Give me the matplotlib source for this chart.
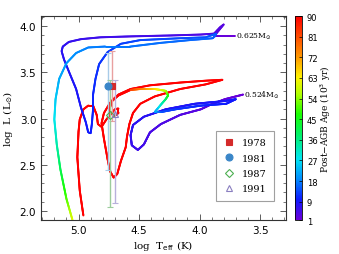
import numpy as np
import matplotlib
matplotlib.use("Agg")
import matplotlib.pyplot as plt
from matplotlib.collections import LineCollection
from matplotlib.colors import LinearSegmentedColormap, Normalize
from matplotlib.ticker import MultipleLocator

# ---------------- data ----------------
# 0.625 Msun track: log Teff, log L, post-AGB age (10^3 yr)
t625_logT = [3.71, 3.88, 3.85, 3.80, 3.83, 3.88, 3.99, 4.24, 4.57, 4.82, 4.98, 5.08, 5.13, 5.14, 5.12, 5.08,
             5.02, 4.98, 4.94, 4.92, 4.90, 4.89, 4.88, 4.88, 4.86, 4.83, 4.76, 4.65, 4.49, 4.16, 3.95, 3.86,
             3.89, 4.08, 4.32, 4.57, 4.78, 4.92, 5.02, 5.10, 5.16, 5.19, 5.20, 5.18, 5.15, 5.10, 5.05]
t625_logL = [3.89, 3.89, 3.94, 4.02, 3.99, 3.92, 3.91, 3.90, 3.89, 3.88, 3.86, 3.83, 3.78, 3.73, 3.64, 3.51,
             3.32, 3.12, 2.96, 2.85, 2.84, 2.94, 3.10, 3.26, 3.43, 3.59, 3.72, 3.81, 3.85, 3.87, 3.88, 3.92,
             3.87, 3.85, 3.82, 3.78, 3.78, 3.77, 3.71, 3.60, 3.43, 3.21, 2.99, 2.72, 2.45, 2.13, 1.90]
t625_age = [1, 2, 2.5, 3, 3.3, 3.6, 4, 4.5, 5, 5.5, 6, 6.5, 7, 7.3, 7.6, 8,
            8.5, 9, 9.5, 9.8, 10, 10.3, 10.6, 11, 11.5, 12, 12.5, 13, 13.5, 14, 14.5, 15,
            15.5, 16, 16.5, 17, 17.5, 18, 19, 20, 22, 25, 28, 33, 40, 50, 60]

# 0.524 Msun track (young part)
t524_logT = [3.64, 3.79, 3.91, 3.99, 4.16, 4.32, 4.41, 4.46, 4.51, 4.56, 4.57, 4.55, 4.46, 4.28, 4.04,
             3.79, 3.70, 3.78, 3.99, 4.20, 4.32, 4.37, 4.32, 4.28, 4.26, 4.28, 4.37, 4.49, 4.57]
t524_logL = [3.26, 3.21, 3.15, 3.10, 3.04, 2.94, 2.85, 2.72, 2.66, 2.71, 2.82, 2.93, 3.02, 3.10, 3.16,
             3.19, 3.21, 3.16, 3.14, 3.10, 3.07, 3.07, 3.15, 3.21, 3.25, 3.30, 3.32, 3.32, 3.31]
t524_age = [1, 2, 2.5, 3, 3.5, 4, 4.5, 5, 5.5, 6, 6.5, 7, 7.5, 8, 8.5,
            9, 9.5, 10, 11, 12, 14, 20, 30, 38, 45, 55, 65, 75, 82]

# 0.524 Msun track (late part, older than 90 kyr)
late_logT = [4.57, 4.67, 4.74, 4.79, 4.81, 4.79, 4.76, 4.74, 4.71, 4.68, 4.65, 4.61, 4.60, 4.58, 4.55,
             4.49, 4.37, 4.16, 3.95, 3.81, 3.95, 4.16, 4.41, 4.57, 4.67, 4.72, 4.74, 4.74, 4.70, 4.67,
             4.67, 4.70, 4.77, 4.81, 4.84, 4.85, 4.88, 4.92, 4.96, 4.99, 5.00, 5.01, 4.99, 4.96]
late_logL = [3.31, 3.25, 3.17, 3.06, 2.95, 2.78, 2.56, 2.43, 2.36, 2.40, 2.54, 2.69, 2.80, 2.94, 3.06,
             3.16, 3.24, 3.32, 3.37, 3.42, 3.41, 3.39, 3.36, 3.32, 3.26, 3.20, 3.12, 3.06, 3.03, 3.06,
             3.11, 3.10, 2.99, 2.91, 2.94, 3.04, 3.14, 3.14, 3.10, 2.99, 2.86, 2.58, 2.22, 1.95]
late_age = 95

# observations
obs_years = ["1978", "1981", "1987", "1991"]
obs_logT = [4.72, 4.76, 4.74, 4.70]
obs_logL = [3.35, 3.35, 3.04, 3.05]
obs_err_lo = [0.38, 0.91, 1.00, 0.97]
obs_err_hi = [0.38, 0.36, 0.38, 0.37]

cbar_ticks = [1, 9, 18, 27, 36, 45, 54, 63, 72, 81, 90]

# ---------------- plot ----------------
cmap = LinearSegmentedColormap.from_list("idl_rainbow", [
    (0.00, (0.42, 0.0, 0.85)),
    (0.10, (0.05, 0.1, 1.0)),
    (0.20, (0.0, 0.55, 1.0)),
    (0.30, (0.0, 0.9, 0.95)),
    (0.42, (0.0, 0.95, 0.4)),
    (0.52, (0.1, 1.0, 0.0)),
    (0.62, (0.7, 1.0, 0.0)),
    (0.70, (1.0, 0.95, 0.0)),
    (0.80, (1.0, 0.6, 0.0)),
    (0.90, (1.0, 0.3, 0.0)),
    (1.00, (1.0, 0.0, 0.0)),
])
norm = Normalize(vmin=1, vmax=90)

fig = plt.figure(figsize=(3.39, 2.55), dpi=100)
ax = fig.add_axes([0.121, 0.133, 0.723, 0.80])
cax = fig.add_axes([0.870, 0.133, 0.021, 0.80])


def add_track(x, y, a, lw=1.4):
    x = np.asarray(x, float); y = np.asarray(y, float)
    a = np.broadcast_to(np.asarray(a, float), x.shape)
    s = np.r_[0, np.cumsum(np.hypot(np.diff(x), np.diff(y)))]
    ss = np.linspace(0, s[-1], 800)
    xi = np.interp(ss, s, x); yi = np.interp(ss, s, y); ai = np.interp(ss, s, a)
    pts = np.column_stack([xi, yi]).reshape(-1, 1, 2)
    segs = np.concatenate([pts[:-1], pts[1:]], axis=1)
    lc = LineCollection(segs, cmap=cmap, norm=norm, linewidths=lw, capstyle="round", joinstyle="round")
    lc.set_array(0.5 * (ai[:-1] + ai[1:]))
    ax.add_collection(lc)


add_track(late_logT, late_logL, late_age)
add_track(t524_logT, t524_logL, t524_age)
add_track(t625_logT, t625_logL, t625_age)

# observations with error bars
mk = ["s", "o", "D", "^"]
mfc = ["#d42a2a", "#3a86c8", "none", "none"]
mec = ["#d42a2a", "#3a86c8", "#4caf50", "#8a7fc0"]
ecol = ["#e9a0a0", "#a8cbe8", "#9ccc9c", "#b8b0dc"]
msz = [5, 5, 4, 4.5]
for i in range(4):
    ax.errorbar([obs_logT[i]], [obs_logL[i]], yerr=[[obs_err_lo[i]], [obs_err_hi[i]]],
                fmt="none", ecolor=ecol[i], elinewidth=1.0, capsize=2.2, capthick=0.8, zorder=3)
handles = []
for i in range(4):
    h, = ax.plot([obs_logT[i]], [obs_logL[i]], ls="none", marker=mk[i], ms=msz[i],
                 mfc=mfc[i], mec=mec[i], mew=0.8, zorder=4, label=obs_years[i])
    handles.append(h)

ax.set_xlim(5.31, 3.285)
ax.set_ylim(1.90, 4.11)
ax.xaxis.set_major_locator(MultipleLocator(0.5))
ax.xaxis.set_minor_locator(MultipleLocator(0.1))
ax.yaxis.set_major_locator(MultipleLocator(0.5))
ax.yaxis.set_minor_locator(MultipleLocator(0.1))
ax.tick_params(which="both", direction="in", top=True, right=True, labelsize=7.5, color="#444444")
ax.tick_params(which="major", length=4, width=0.6)
ax.tick_params(which="minor", length=2, width=0.5)
for sp in ax.spines.values():
    sp.set_linewidth(0.8)
    sp.set_color("#333333")

ax.set_xlabel(r"log  T$_{\rm eff}$ (K)", fontsize=7.5, family="DejaVu Serif", labelpad=2)
ax.set_ylabel(r"log  L (L$_{\odot}$)", fontsize=7.5, family="DejaVu Serif", labelpad=3)

ax.text(3.70, 3.90, r"0.625M$_{\odot}$", fontsize=5.5, family="DejaVu Serif", va="center", ha="left")
ax.text(3.63, 3.26, r"0.524M$_{\odot}$", fontsize=5.5, family="DejaVu Serif", va="center", ha="left")

leg = ax.legend(handles=handles, loc="lower right", bbox_to_anchor=(0.95, 0.093), borderaxespad=0,
                frameon=True, fancybox=False, edgecolor="#888888", borderpad=0.8, labelspacing=0.65,
                handletextpad=0.8, handlelength=1.0, prop={"family": "DejaVu Serif", "size": 7})
leg.get_frame().set_linewidth(0.8)

sm = plt.cm.ScalarMappable(cmap=cmap, norm=norm)
cb = fig.colorbar(sm, cax=cax, ticks=cbar_ticks)
cb.ax.tick_params(labelsize=6, length=2, width=0.5, direction="in")
cb.outline.set_linewidth(0.6)
cb.set_label(r"Post$-$AGB Age (10$^3$ yr)", fontsize=6.5, family="DejaVu Serif", labelpad=1)

fig.savefig("out.png", dpi=100)
